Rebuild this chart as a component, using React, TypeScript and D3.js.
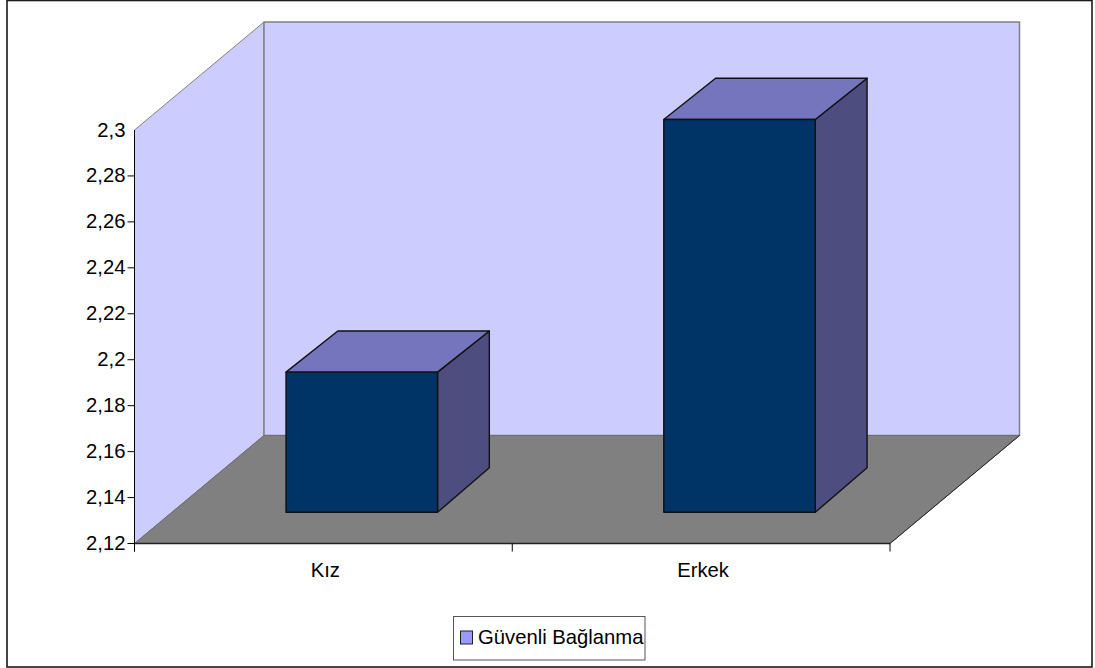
import React from "react";
import * as d3 from "d3";

const categories = ["Kız", "Erkek"];
const values = [2.181, 2.291];
const tickValues = [2.12, 2.14, 2.16, 2.18, 2.2, 2.22, 2.24, 2.26, 2.28, 2.3];
const tickLabels = ["2,12", "2,14", "2,16", "2,18", "2,2", "2,22", "2,24", "2,26", "2,28", "2,3"];
const seriesName = "Güvenli Bağlanma";

const W = 1095, H = 668;
const FONT = "'Liberation Sans', Arial, sans-serif";
const x0 = 134.5, x1 = 890, yBottom = 543.5, yTop = 130;
const depthX = 129.5, depthY = 108;
const barOffsetX = 38.4, barOffsetY = 31.2;
const barDepthX = 51.8, barDepthTop = 41.2, barDepthBottom = 44.6;
const barW = 151.5;
const FS = 20.25;

const y = d3.scaleLinear().domain([2.12, 2.3]).range([yBottom, yTop]);
const x = d3.scaleBand<string>().domain(categories).range([x0, x1]);

const pts = (p: number[][]) => p.map((q) => q.join(",")).join(" ");

export default function App() {
  const wallTop = yTop - depthY, wallBottom = yBottom - depthY;
  const backL = x0 + depthX, backR = x1 + depthX;
  return (
    <svg width={W} height={H} style={{ position: "absolute", left: 0, top: 0, display: "block" }} fontFamily={FONT}>
      <rect x={0} y={0} width={W} height={H} fill="#fff" />
      <rect x={7} y={0.5} width={1085} height={666.5} fill="#fff" stroke="#1a1a1a" strokeWidth={1.6} />
      {/* walls */}
      <polygon points={pts([[x0, yTop], [backL, wallTop], [backL, wallBottom], [x0, yBottom]])} fill="#CCCCFF" stroke="#808080" strokeWidth={1} />
      <polygon points={pts([[backL, wallTop], [backR, wallTop], [backR, wallBottom], [backL, wallBottom]])} fill="#CCCCFF" stroke="#808080" strokeWidth={1.5} />
      {/* floor */}
      <polygon points={pts([[x0, yBottom], [backL, wallBottom], [backR, wallBottom], [x1, yBottom]])} fill="#808080" stroke="#6e6e6e" strokeWidth={1} />
      <line x1={x1} y1={yBottom} x2={backR} y2={wallBottom} stroke="#222" strokeWidth={1} />
      {/* axes */}
      <line x1={x0} y1={yTop} x2={x0} y2={yBottom + 8} stroke="#000" strokeWidth={1} />
      <line x1={x0} y1={yBottom} x2={x1} y2={yBottom} stroke="#222" strokeWidth={1.4} />
      {tickValues.map((t, i) => (
        <g key={t}>
          {i < tickValues.length - 1 && <line x1={x0 - 7} x2={x0} y1={y(t)} y2={y(t)} stroke="#000" strokeWidth={1} />}
          <text x={x0 - 9} y={y(t) + 6.5} textAnchor="end" fontSize={FS} fill="#000">{tickLabels[i]}</text>
        </g>
      ))}
      {[...categories.map((c) => x(c)!), x1].map((p) => (
        <line key={p} x1={p} x2={p} y1={yBottom} y2={yBottom + 8} stroke="#000" strokeWidth={1} />
      ))}
      {categories.map((c) => (
        <text key={c} x={x(c)! + x.bandwidth() / 2 + 2} y={577} textAnchor="middle" fontSize={FS} fill="#000">{c}</text>
      ))}
      {/* bars */}
      {categories.map((c, i) => {
        const cx = x(c)! + x.bandwidth() / 2;
        const l = cx - barW / 2 + barOffsetX;
        const r = l + barW;
        const b = yBottom - barOffsetY;
        const t = y(values[i]) - barOffsetY;
        return (
          <g key={c} stroke="#111" strokeWidth={1.4} strokeLinejoin="round">
            <polygon points={pts([[r, t], [r + barDepthX, t - barDepthTop], [r + barDepthX, b - barDepthBottom], [r, b]])} fill="#4D4D80" />
            <polygon points={pts([[l, t], [l + barDepthX, t - barDepthTop], [r + barDepthX, t - barDepthTop], [r, t]])} fill="#7575BD" />
            <rect x={l} y={t} width={barW} height={b - t} fill="#003366" />
          </g>
        );
      })}
      {/* legend */}
      <rect x={453.5} y={616.5} width={191.5} height={43.5} fill="#fff" stroke="#555" strokeWidth={1} />
      <rect x={460.5} y={631} width={12} height={13} fill="#9999FF" stroke="#222" strokeWidth={1} />
      <text x={478} y={643.5} fontSize={FS} fill="#000">{seriesName}</text>
    </svg>
  );
}
